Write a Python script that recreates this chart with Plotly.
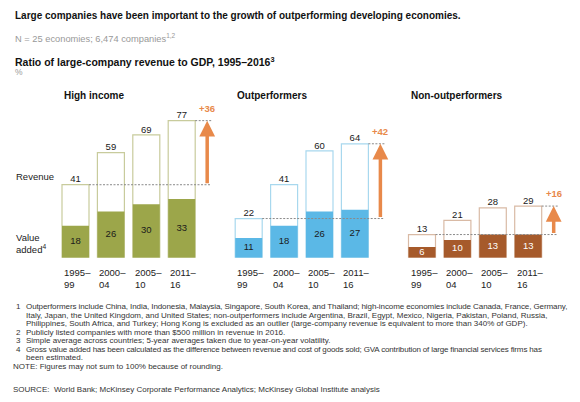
import plotly.graph_objects as go

# --- dados ---
period_start = ["1995–", "2000–", "2005–", "2011–"]
period_end = ["99", "04", "10", "16"]
panels = ["High income", "Outperformers", "Non-outperformers"]
revenue_hi = [41, 59, 69, 77]
value_added_hi = [18, 26, 30, 33]
revenue_out = [22, 41, 60, 64]
value_added_out = [11, 18, 26, 27]
revenue_non = [13, 21, 28, 29]
value_added_non = [6, 10, 13, 13]

footnotes = [
    ("1", "Outperformers include China, India, Indonesia, Malaysia, Singapore, South Korea, and Thailand; high-income economies include Canada, France, Germany,"),
    ("", "Italy, Japan, the United Kingdom, and United States; non-outperformers include Argentina, Brazil, Egypt, Mexico, Nigeria, Pakistan, Poland, Russia,"),
    ("", "Philippines, South Africa, and Turkey; Hong Kong is excluded as an outlier (large-company revenue is equivalent to more than 340% of GDP)."),
    ("2", "Publicly listed companies with more than $500 million in revenue in 2016."),
    ("3", "Simple average across countries; 5-year averages taken due to year-on-year volatility."),
    ("4", "Gross value added has been calculated as the difference between revenue and cost of goods sold; GVA contribution of large financial services firms has"),
    ("", "been estimated."),
]
note = "NOTE: Figures may not sum to 100% because of rounding."
source = "SOURCE:  World Bank; McKinsey Corporate Performance Analytics; McKinsey Global Institute analysis"

# --- estilo ---
# a página tem margem de 8px no body: a figura fica menor e deslocada
OFF = 8
W, H = 580 - 2 * OFF, 402 - 2 * OFF
FONT = "Liberation Sans, Arial, sans-serif"
fills = ["#9ca64a", "#5bb8e6", "#a65a2b"]
outlines = ["#c8cb9c", "#a8d8ee", "#d9baa5"]
inner_text = ["#1a1a1a", "#1a1a1a", "white"]
ORANGE = "#e8894a"
FOOT = 8.0
# espaçamento entre letras (px) por linha de nota, p/ caber na largura
foot_spacing = [-0.09, 0, 0, 0, 0, -0.15, 0]

revenues = [revenue_hi, revenue_out, revenue_non]
values_added = [value_added_hi, value_added_out, value_added_non]

unit = 35.4            # px por categoria
centers0 = [75.5, 248.7, 422.0]
xr = [-0.55, 4.1]
bw = 27 / unit
arrow_x = 3.72


def px(v):
    return (v - OFF) / W


def py(v):
    return 1 - (v - OFF) / H


fig = go.Figure()

for p in range(3):
    xa = "x" if p == 0 else f"x{p + 1}"
    pos = list(range(len(period_start)))
    rev, va = revenues[p], values_added[p]

    # Receita (barra vazada)
    fig.add_trace(go.Bar(
        x=pos, y=rev, xaxis=xa, yaxis="y", width=bw,
        marker=dict(color="white", line=dict(color=outlines[p], width=1.2)),
        hoverinfo="skip", showlegend=False,
    ))
    # Valor adicionado (barra cheia)
    fig.add_trace(go.Bar(
        x=pos, y=va, xaxis=xa, yaxis="y", width=bw,
        marker=dict(color=fills[p], line=dict(width=0)),
        hoverinfo="skip", showlegend=False,
    ))
    # Rótulos
    fig.add_trace(go.Scatter(
        x=pos, y=rev, xaxis=xa, yaxis="y", mode="text", cliponaxis=False,
        text=[str(v) for v in rev], textposition="top center",
        textfont=dict(size=9.5, color="#1a1a1a", family=FONT),
        hoverinfo="skip", showlegend=False,
    ))
    fig.add_trace(go.Scatter(
        x=pos, y=[v / 2 for v in va], xaxis=xa, yaxis="y", mode="text", cliponaxis=False,
        text=[str(v) for v in va], textposition="middle center",
        textfont=dict(size=9.5, color=inner_text[p], family=FONT),
        hoverinfo="skip", showlegend=False,
    ))

    # linhas tracejadas
    fig.add_shape(type="line", xref=xa, yref="y", x0=bw / 2, x1=arrow_x + 0.12,
                  y0=rev[0], y1=rev[0], line=dict(color="#8a8a8a", width=1, dash="2px,1.5px"))
    fig.add_shape(type="line", xref=xa, yref="y", x0=3 + bw / 2, x1=arrow_x + 0.12,
                  y0=rev[-1], y1=rev[-1], line=dict(color="#8a8a8a", width=1, dash="2px,1.5px"))

    # seta de crescimento
    fig.add_annotation(x=arrow_x, y=rev[-1], ax=arrow_x, ay=rev[0], xref=xa, yref="y",
                       axref=xa, ayref="y", text="", showarrow=True, arrowhead=2,
                       arrowsize=0.9, arrowwidth=3.5, arrowcolor=ORANGE, standoff=0)
    fig.add_annotation(x=arrow_x, y=rev[-1], xref=xa, yref="y", text=f"<b>+{rev[-1] - rev[0]}</b>",
                       showarrow=False, yanchor="bottom", yshift=5,
                       font=dict(size=9.5, color=ORANGE, family=FONT))

    # título do painel
    fig.add_annotation(x=-bw / 2, y=py(95), xref=xa, yref="paper", text=f"<b>{panels[p]}</b>",
                       showarrow=False, xanchor="left", yanchor="middle",
                       font=dict(size=10, color="#111", family=FONT))

    # rótulos dos períodos (alinhados à esquerda)
    for i in pos:
        for lab, yv in ((period_start[i], 272.7), (period_end[i], 284)):
            fig.add_annotation(x=i - bw / 2, y=py(yv), xref=xa, yref="paper", text=lab,
                               showarrow=False, xanchor="left", yanchor="middle",
                               font=dict(size=9.5, color="#222", family=FONT))

    c0 = centers0[p]
    dom = [px(c0 + xr[0] * unit), px(c0 + xr[1] * unit)]
    axis = dict(domain=dom, range=xr, anchor="y", visible=False, fixedrange=True)
    fig.update_layout(**{("xaxis" if p == 0 else f"xaxis{p + 1}"): axis})

fig.update_layout(
    yaxis=dict(domain=[py(257.7), py(115.3)], range=[0, 80], visible=False),
    barmode="overlay",
    width=W, height=H,
    margin=dict(l=0, r=0, t=0, b=0),
    plot_bgcolor="white", paper_bgcolor="white",
    font=dict(family=FONT),
)

# legendas laterais
fig.add_annotation(x=px(14), y=py(176), xref="paper", yref="paper", text="Revenue",
                   showarrow=False, xanchor="left", yanchor="middle",
                   font=dict(size=9.5, color="#222", family=FONT))
fig.add_annotation(x=px(14), y=py(243), xref="paper", yref="paper", text="Value<br>added<sup>4</sup>",
                   showarrow=False, xanchor="left", yanchor="middle", align="left",
                   font=dict(size=9.5, color="#222", family=FONT))

# cabeçalho
header = [
    (16, "<b>Large companies have been important to the growth of outperforming developing economies.</b>", "#111", 10),
    (38, "N = 25 economies; 6,474 companies<sup>1,2</sup>", "#999", 9.3),
    (61, "<b>Ratio of large-company revenue to GDP, 1995–2016<sup>3</sup></b>", "#111", 10.5),
    (72, "%", "#999", 8.5),
]
for yv, txt, col, sz in header:
    fig.add_annotation(x=px(13), y=py(yv), xref="paper", yref="paper", text=txt,
                       showarrow=False, xanchor="left", yanchor="middle",
                       font=dict(size=sz, color=col, family=FONT))

# notas de rodapé
foot_y = [306.5, 315, 323.5, 332, 340.5, 349, 357.5]
for (num, txt), yv, ls in zip(footnotes, foot_y, foot_spacing):
    if num:
        fig.add_annotation(x=px(14), y=py(yv), xref="paper", yref="paper", text=num,
                           showarrow=False, xanchor="left", yanchor="middle",
                           font=dict(size=FOOT, color="#333", family=FONT))
    styled = f'<span style="letter-spacing:{ls}px">{txt}</span>' if ls else txt
    fig.add_annotation(x=px(24), y=py(yv), xref="paper", yref="paper", text=styled,
                       showarrow=False, xanchor="left", yanchor="middle",
                       font=dict(size=FOOT, color="#333", family=FONT))
fig.add_annotation(x=px(11), y=py(366), xref="paper", yref="paper", text=note,
                   showarrow=False, xanchor="left", yanchor="middle",
                   font=dict(size=FOOT, color="#333", family=FONT))
fig.add_annotation(x=px(11), y=py(389), xref="paper", yref="paper", text=source,
                   showarrow=False, xanchor="left", yanchor="middle",
                   font=dict(size=FOOT, color="#333", family=FONT))

fig.write_html("out.html")
